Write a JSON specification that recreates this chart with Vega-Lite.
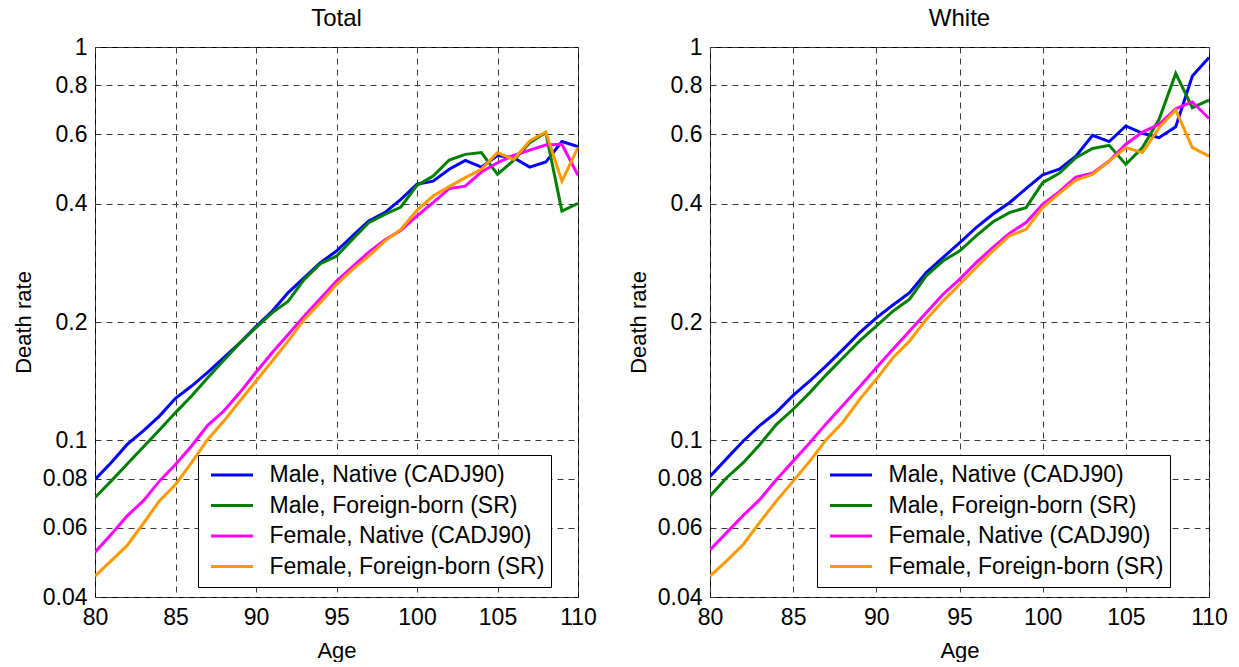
{
  "$schema": "https://vega.github.io/schema/vega-lite/v6.json",
  "background": "white",
  "padding": {"left": 11, "top": 6, "right": 0, "bottom": 0},
  "bounds": "flush",
  "spacing": 132,
  "config": {
    "font": "Liberation Sans",
    "view": {"stroke": "black", "strokeWidth": 1},
    "axis": {
      "labelFont": "Liberation Sans", "labelFontSize": 23, "labelColor": "black",
      "titleFont": "Liberation Sans", "titleFontSize": 22, "titleFontWeight": "normal", "titleColor": "black",
      "domain": false, "ticks": false, "labelOverlap": false, "labelFlush": false,
      "gridColor": "#383838", "gridDash": [6, 5], "gridWidth": 1, "gridOpacity": 1
    },
    "axisX": {"labelPadding": 9, "titlePadding": 11},
    "axisY": {"labelPadding": 8, "titlePadding": 7},
    "title": {"font": "Liberation Sans", "fontSize": 24, "fontWeight": "normal", "color": "black", "offset": 5, "anchor": "middle"},
    "legend": {
      "orient": "none", "title": null,
      "symbolType": "stroke", "symbolSize": 1764, "symbolStrokeWidth": 3,
      "labelFont": "Liberation Sans", "labelFontSize": 23, "labelColor": "black", "labelLimit": 500,
      "clipHeight": 28, "rowPadding": 2.5, "padding": 6, "symbolOffset": 5.5, "labelOffset": 15,
      "strokeColor": "black", "fillColor": "white"
    }
  },
  "resolve": {"scale": {"color": "shared"}, "legend": {"color": "independent"}},
  "datasets": {
    "total": [
      {"s":"MN","a":80,"r":0.0796},{"s":"MN","a":81,"r":0.0878},{"s":"MN","a":82,"r":0.0977},{"s":"MN","a":83,"r":0.1057},{"s":"MN","a":84,"r":0.1153},{"s":"MN","a":85,"r":0.128},{"s":"MN","a":86,"r":0.1375},{"s":"MN","a":87,"r":0.149},{"s":"MN","a":88,"r":0.1623},{"s":"MN","a":89,"r":0.177},{"s":"MN","a":90,"r":0.1946},{"s":"MN","a":91,"r":0.213},{"s":"MN","a":92,"r":0.2375},{"s":"MN","a":93,"r":0.2594},{"s":"MN","a":94,"r":0.283},{"s":"MN","a":95,"r":0.303},{"s":"MN","a":96,"r":0.331},{"s":"MN","a":97,"r":0.361},{"s":"MN","a":98,"r":0.3794},{"s":"MN","a":99,"r":0.41},{"s":"MN","a":100,"r":0.448},{"s":"MN","a":101,"r":0.456},{"s":"MN","a":102,"r":0.489},{"s":"MN","a":103,"r":0.515},{"s":"MN","a":104,"r":0.495},{"s":"MN","a":105,"r":0.53},{"s":"MN","a":106,"r":0.523},{"s":"MN","a":107,"r":0.495},{"s":"MN","a":108,"r":0.51},{"s":"MN","a":109,"r":0.575},{"s":"MN","a":110,"r":0.558},
      {"s":"MF","a":80,"r":0.0716},{"s":"MF","a":81,"r":0.0788},{"s":"MF","a":82,"r":0.0871},{"s":"MF","a":83,"r":0.0962},{"s":"MF","a":84,"r":0.1063},{"s":"MF","a":85,"r":0.1177},{"s":"MF","a":86,"r":0.1297},{"s":"MF","a":87,"r":0.1444},{"s":"MF","a":88,"r":0.1598},{"s":"MF","a":89,"r":0.177},{"s":"MF","a":90,"r":0.1935},{"s":"MF","a":91,"r":0.211},{"s":"MF","a":92,"r":0.226},{"s":"MF","a":93,"r":0.2567},{"s":"MF","a":94,"r":0.2813},{"s":"MF","a":95,"r":0.294},{"s":"MF","a":96,"r":0.3245},{"s":"MF","a":97,"r":0.3578},{"s":"MF","a":98,"r":0.3756},{"s":"MF","a":99,"r":0.392},{"s":"MF","a":100,"r":0.445},{"s":"MF","a":101,"r":0.47},{"s":"MF","a":102,"r":0.516},{"s":"MF","a":103,"r":0.5335},{"s":"MF","a":104,"r":0.539},{"s":"MF","a":105,"r":0.4747},{"s":"MF","a":106,"r":0.515},{"s":"MF","a":107,"r":0.571},{"s":"MF","a":108,"r":0.606},{"s":"MF","a":109,"r":0.383},{"s":"MF","a":110,"r":0.4005},
      {"s":"FN","a":80,"r":0.052},{"s":"FN","a":81,"r":0.0577},{"s":"FN","a":82,"r":0.0643},{"s":"FN","a":83,"r":0.0702},{"s":"FN","a":84,"r":0.0788},{"s":"FN","a":85,"r":0.0869},{"s":"FN","a":86,"r":0.0968},{"s":"FN","a":87,"r":0.1092},{"s":"FN","a":88,"r":0.1188},{"s":"FN","a":89,"r":0.1323},{"s":"FN","a":90,"r":0.149},{"s":"FN","a":91,"r":0.167},{"s":"FN","a":92,"r":0.186},{"s":"FN","a":93,"r":0.207},{"s":"FN","a":94,"r":0.2293},{"s":"FN","a":95,"r":0.254},{"s":"FN","a":96,"r":0.2764},{"s":"FN","a":97,"r":0.301},{"s":"FN","a":98,"r":0.323},{"s":"FN","a":99,"r":0.342},{"s":"FN","a":100,"r":0.372},{"s":"FN","a":101,"r":0.402},{"s":"FN","a":102,"r":0.4365},{"s":"FN","a":103,"r":0.443},{"s":"FN","a":104,"r":0.481},{"s":"FN","a":105,"r":0.508},{"s":"FN","a":106,"r":0.53},{"s":"FN","a":107,"r":0.547},{"s":"FN","a":108,"r":0.5636},{"s":"FN","a":109,"r":0.566},{"s":"FN","a":110,"r":0.472},
      {"s":"FF","a":80,"r":0.0452},{"s":"FF","a":81,"r":0.0494},{"s":"FF","a":82,"r":0.0541},{"s":"FF","a":83,"r":0.0615},{"s":"FF","a":84,"r":0.0702},{"s":"FF","a":85,"r":0.0773},{"s":"FF","a":86,"r":0.0878},{"s":"FF","a":87,"r":0.1006},{"s":"FF","a":88,"r":0.112},{"s":"FF","a":89,"r":0.126},{"s":"FF","a":90,"r":0.1416},{"s":"FF","a":91,"r":0.159},{"s":"FF","a":92,"r":0.179},{"s":"FF","a":93,"r":0.203},{"s":"FF","a":94,"r":0.224},{"s":"FF","a":95,"r":0.249},{"s":"FF","a":96,"r":0.272},{"s":"FF","a":97,"r":0.294},{"s":"FF","a":98,"r":0.321},{"s":"FF","a":99,"r":0.344},{"s":"FF","a":100,"r":0.3845},{"s":"FF","a":101,"r":0.418},{"s":"FF","a":102,"r":0.4416},{"s":"FF","a":103,"r":0.4656},{"s":"FF","a":104,"r":0.489},{"s":"FF","a":105,"r":0.539},{"s":"FF","a":106,"r":0.518},{"s":"FF","a":107,"r":0.577},{"s":"FF","a":108,"r":0.608},{"s":"FF","a":109,"r":0.456},{"s":"FF","a":110,"r":0.555}
    ],
    "white": [
      {"s":"MN","a":80,"r":0.081},{"s":"MN","a":81,"r":0.0899},{"s":"MN","a":82,"r":0.0997},{"s":"MN","a":83,"r":0.1092},{"s":"MN","a":84,"r":0.118},{"s":"MN","a":85,"r":0.1302},{"s":"MN","a":86,"r":0.1416},{"s":"MN","a":87,"r":0.155},{"s":"MN","a":88,"r":0.1704},{"s":"MN","a":89,"r":0.188},{"s":"MN","a":90,"r":0.205},{"s":"MN","a":91,"r":0.221},{"s":"MN","a":92,"r":0.2375},{"s":"MN","a":93,"r":0.267},{"s":"MN","a":94,"r":0.2915},{"s":"MN","a":95,"r":0.318},{"s":"MN","a":96,"r":0.3475},{"s":"MN","a":97,"r":0.3756},{"s":"MN","a":98,"r":0.402},{"s":"MN","a":99,"r":0.4365},{"s":"MN","a":100,"r":0.473},{"s":"MN","a":101,"r":0.489},{"s":"MN","a":102,"r":0.528},{"s":"MN","a":103,"r":0.5965},{"s":"MN","a":104,"r":0.575},{"s":"MN","a":105,"r":0.63},{"s":"MN","a":106,"r":0.6035},{"s":"MN","a":107,"r":0.588},{"s":"MN","a":108,"r":0.627},{"s":"MN","a":109,"r":0.844},{"s":"MN","a":110,"r":0.94},
      {"s":"MF","a":80,"r":0.0722},{"s":"MF","a":81,"r":0.0804},{"s":"MF","a":82,"r":0.0878},{"s":"MF","a":83,"r":0.0977},{"s":"MF","a":84,"r":0.1099},{"s":"MF","a":85,"r":0.12},{"s":"MF","a":86,"r":0.1323},{"s":"MF","a":87,"r":0.147},{"s":"MF","a":88,"r":0.1623},{"s":"MF","a":89,"r":0.179},{"s":"MF","a":90,"r":0.1953},{"s":"MF","a":91,"r":0.213},{"s":"MF","a":92,"r":0.2285},{"s":"MF","a":93,"r":0.262},{"s":"MF","a":94,"r":0.2857},{"s":"MF","a":95,"r":0.303},{"s":"MF","a":96,"r":0.331},{"s":"MF","a":97,"r":0.359},{"s":"MF","a":98,"r":0.3794},{"s":"MF","a":99,"r":0.3906},{"s":"MF","a":100,"r":0.452},{"s":"MF","a":101,"r":0.4775},{"s":"MF","a":102,"r":0.523},{"s":"MF","a":103,"r":0.552},{"s":"MF","a":104,"r":0.5625},{"s":"MF","a":105,"r":0.503},{"s":"MF","a":106,"r":0.555},{"s":"MF","a":107,"r":0.655},{"s":"MF","a":108,"r":0.857},{"s":"MF","a":109,"r":0.701},{"s":"MF","a":110,"r":0.733},
      {"s":"FN","a":80,"r":0.0527},{"s":"FN","a":81,"r":0.0583},{"s":"FN","a":82,"r":0.0645},{"s":"FN","a":83,"r":0.0708},{"s":"FN","a":84,"r":0.0796},{"s":"FN","a":85,"r":0.0886},{"s":"FN","a":86,"r":0.0987},{"s":"FN","a":87,"r":0.1105},{"s":"FN","a":88,"r":0.1228},{"s":"FN","a":89,"r":0.137},{"s":"FN","a":90,"r":0.153},{"s":"FN","a":91,"r":0.1704},{"s":"FN","a":92,"r":0.1897},{"s":"FN","a":93,"r":0.211},{"s":"FN","a":94,"r":0.235},{"s":"FN","a":95,"r":0.2567},{"s":"FN","a":96,"r":0.283},{"s":"FN","a":97,"r":0.309},{"s":"FN","a":98,"r":0.336},{"s":"FN","a":99,"r":0.3578},{"s":"FN","a":100,"r":0.398},{"s":"FN","a":101,"r":0.429},{"s":"FN","a":102,"r":0.467},{"s":"FN","a":103,"r":0.4775},{"s":"FN","a":104,"r":0.513},{"s":"FN","a":105,"r":0.566},{"s":"FN","a":106,"r":0.608},{"s":"FN","a":107,"r":0.636},{"s":"FN","a":108,"r":0.697},{"s":"FN","a":109,"r":0.725},{"s":"FN","a":110,"r":0.658},
      {"s":"FF","a":80,"r":0.0452},{"s":"FF","a":81,"r":0.0494},{"s":"FF","a":82,"r":0.0544},{"s":"FF","a":83,"r":0.062},{"s":"FF","a":84,"r":0.0702},{"s":"FF","a":85,"r":0.0788},{"s":"FF","a":86,"r":0.0886},{"s":"FF","a":87,"r":0.1006},{"s":"FF","a":88,"r":0.1114},{"s":"FF","a":89,"r":0.1272},{"s":"FF","a":90,"r":0.143},{"s":"FF","a":91,"r":0.1623},{"s":"FF","a":92,"r":0.179},{"s":"FF","a":93,"r":0.203},{"s":"FF","a":94,"r":0.226},{"s":"FF","a":95,"r":0.249},{"s":"FF","a":96,"r":0.2749},{"s":"FF","a":97,"r":0.303},{"s":"FF","a":98,"r":0.331},{"s":"FF","a":99,"r":0.344},{"s":"FF","a":100,"r":0.3906},{"s":"FF","a":101,"r":0.4247},{"s":"FF","a":102,"r":0.459},{"s":"FF","a":103,"r":0.4747},{"s":"FF","a":104,"r":0.513},{"s":"FF","a":105,"r":0.555},{"s":"FF","a":106,"r":0.539},{"s":"FF","a":107,"r":0.624},{"s":"FF","a":108,"r":0.6915},{"s":"FF","a":109,"r":0.555},{"s":"FF","a":110,"r":0.528}
    ]
  },
  "hconcat": [
    {
      "width": 483, "height": 550,
      "title": {"text": "Total"},
      "data": {"name": "total"},
      "mark": {"type": "line", "strokeWidth": 3, "clip": true},
      "encoding": {
        "x": {"field": "a", "type": "quantitative", "scale": {"domain": [80, 110], "nice": false, "zero": false}, "axis": {"title": "Age", "values": [80, 85, 90, 95, 100, 105, 110]}},
        "y": {"field": "r", "type": "quantitative", "scale": {"type": "log", "domain": [0.04, 1], "nice": false}, "axis": {"title": "Death rate", "values": [0.04, 0.06, 0.08, 0.1, 0.2, 0.4, 0.6, 0.8, 1], "format": "~g"}},
        "color": {"field": "s", "type": "nominal", "sort": null,
          "scale": {"domain": ["MN", "MF", "FN", "FF"], "range": ["#0000ff", "#008000", "#ff00ff", "#ff9900"]},
          "legend": {"legendX": 103, "legendY": 408, "labelExpr": "datum.label == 'MN' ? 'Male, Native (CADJ90)' : datum.label == 'MF' ? 'Male, Foreign-born (SR)' : datum.label == 'FN' ? 'Female, Native (CADJ90)' : 'Female, Foreign-born (SR)'"}}
      }
    },
    {
      "width": 499, "height": 550,
      "title": {"text": "White"},
      "data": {"name": "white"},
      "mark": {"type": "line", "strokeWidth": 3, "clip": true},
      "encoding": {
        "x": {"field": "a", "type": "quantitative", "scale": {"domain": [80, 110], "nice": false, "zero": false}, "axis": {"title": "Age", "values": [80, 85, 90, 95, 100, 105, 110]}},
        "y": {"field": "r", "type": "quantitative", "scale": {"type": "log", "domain": [0.04, 1], "nice": false}, "axis": {"title": "Death rate", "values": [0.04, 0.06, 0.08, 0.1, 0.2, 0.4, 0.6, 0.8, 1], "format": "~g"}},
        "color": {"field": "s", "type": "nominal", "sort": null,
          "scale": {"domain": ["MN", "MF", "FN", "FF"], "range": ["#0000ff", "#008000", "#ff00ff", "#ff9900"]},
          "legend": {"legendX": 107, "legendY": 408, "labelExpr": "datum.label == 'MN' ? 'Male, Native (CADJ90)' : datum.label == 'MF' ? 'Male, Foreign-born (SR)' : datum.label == 'FN' ? 'Female, Native (CADJ90)' : 'Female, Foreign-born (SR)'"}}
      }
    }
  ]
}
